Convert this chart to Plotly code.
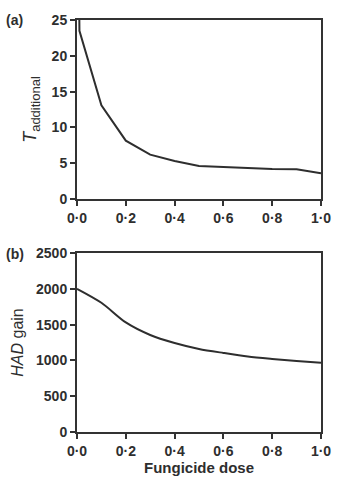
import plotly.graph_objects as go
from plotly.subplots import make_subplots

# Panel (a): T_additional vs fungicide dose
dose_a = [0.0, 0.01, 0.1, 0.2, 0.3, 0.4, 0.5, 0.6, 0.7, 0.8, 0.9, 1.0]
t_additional = [60.0, 23.5, 13.1, 8.15, 6.2, 5.3, 4.6, 4.45, 4.3, 4.2, 4.15, 3.6]

# Panel (b): HAD gain vs fungicide dose
dose_b = [0.0, 0.1, 0.2, 0.3, 0.4, 0.5, 0.6, 0.7, 0.8, 0.9, 1.0]
had_gain = [2000, 1805, 1530, 1355, 1243, 1160, 1104, 1054, 1021, 993, 966]

x_tickvals = [0.0, 0.2, 0.4, 0.6, 0.8, 1.0]
x_ticktext = ["0·0", "0·2", "0·4", "0·6", "0·8", "1·0"]
ya_ticks = [0, 5, 10, 15, 20, 25]
yb_ticks = [0, 500, 1000, 1500, 2000, 2500]

INK = "#2e2e2e"
FONT = "Liberation Sans, Arial, sans-serif"

fig = make_subplots(rows=2, cols=1, vertical_spacing=0.131)

fig.add_trace(go.Scatter(x=dose_a, y=t_additional, mode="lines",
                         line=dict(color=INK, width=2), showlegend=False),
              row=1, col=1)
fig.add_trace(go.Scatter(x=dose_b, y=had_gain, mode="lines",
                         line=dict(color=INK, width=2, shape="spline", smoothing=0.8),
                         showlegend=False),
              row=2, col=1)

axis_common = dict(showline=True, linecolor="#333333", linewidth=2, mirror=True,
                   ticks="outside", ticklen=5, tickwidth=2, tickcolor="#333333",
                   showgrid=False, zeroline=False,
                   tickfont=dict(family=FONT, size=14, color=INK))

bold_x = [f"<b>{t}</b>" for t in x_ticktext]
fig.update_xaxes(range=[0, 1], tickvals=x_tickvals, ticktext=bold_x,
                 row=1, col=1, **axis_common)
fig.update_xaxes(range=[0, 1], tickvals=x_tickvals, ticktext=bold_x,
                 row=2, col=1,
                 title=dict(text="<b>Fungicide dose</b>",
                            font=dict(family=FONT, size=15, color=INK), standoff=4),
                 **axis_common)

fig.update_yaxes(range=[0, 25], tickvals=ya_ticks,
                 ticktext=[f"<b>{v}</b>" for v in ya_ticks], row=1, col=1,
                 title=dict(text="<i>T</i><sub><span style='font-size:13px'>additional</span></sub>",
                            font=dict(family=FONT, size=18, color=INK), standoff=10),
                 **axis_common)
fig.update_yaxes(range=[0, 2500], tickvals=yb_ticks,
                 ticktext=[f"<b>{v}</b>" for v in yb_ticks], row=2, col=1,
                 title=dict(text="<i>HAD</i> gain",
                            font=dict(family=FONT, size=16, color=INK), standoff=8),
                 **axis_common)

fig.update_layout(
    width=343, height=485,
    margin=dict(l=77, r=12, t=16, b=53),
    paper_bgcolor="white", plot_bgcolor="white",
    font=dict(family=FONT, color=INK),
)
fig.add_annotation(text="<b>(a)</b>", xref="paper", yref="paper",
                   x=-0.3, y=1.0, xanchor="left", yanchor="middle",
                   showarrow=False, font=dict(family=FONT, size=14, color=INK))
fig.add_annotation(text="<b>(b)</b>", xref="paper", yref="paper",
                   x=-0.3, y=0.4327, xanchor="left", yanchor="middle",
                   showarrow=False, font=dict(family=FONT, size=14, color=INK))

fig.write_html("out.html")
